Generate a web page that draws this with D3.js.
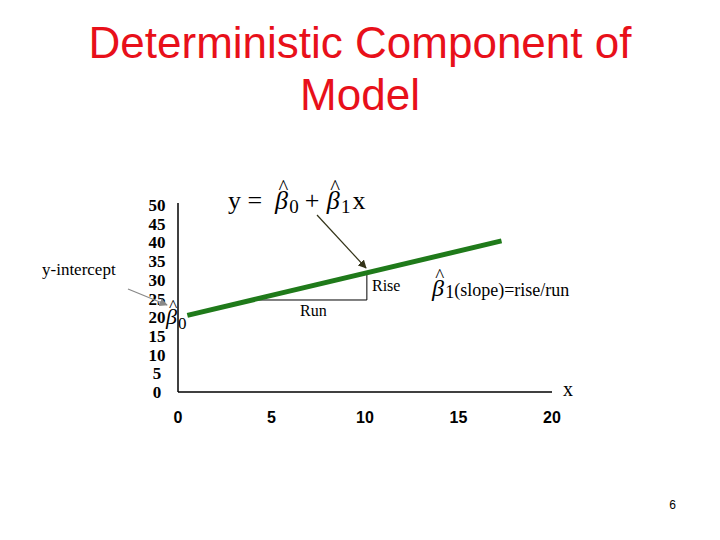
<!DOCTYPE html><html><head><script src="https://cdn.jsdelivr.net/npm/d3@7"></script>
<style>body{margin:0;background:#fff}</style></head><body><svg id="c" width="720" height="540"></svg>
<script>
const xTicks=[0,5,10,15,20];
const yTicks=[0,5,10,15,20,25,30,35,40,45,50];
const lineX=[0.5,17.3];
const lineY=[20.5,40.4];
const runX=[4.2,10.1];
const riseY=[24.6,31.3];
const svg=d3.select("#c");
const x=d3.scaleLinear().domain([0,20]).range([178,552]);
const y=d3.scaleLinear().domain([0,50]).range([392,205]);
const sans="Liberation Sans, Arial", serif="Liberation Serif, Times New Roman";
svg.append("text").attr("x",360).attr("y",58).attr("text-anchor","middle").attr("fill","#e8101a").attr("font-family",sans).attr("font-size",44).text("Deterministic Component of");
svg.append("text").attr("x",360).attr("y",110).attr("text-anchor","middle").attr("fill","#e8101a").attr("font-family",sans).attr("font-size",44).text("Model");
svg.append("line").attr("x1",x(0)).attr("x2",x(0)).attr("y1",y(50)-2).attr("y2",y(0)).attr("stroke","#000").attr("stroke-width",1.5);
svg.append("line").attr("x1",x(0)).attr("x2",x(20)).attr("y1",y(0)).attr("y2",y(0)).attr("stroke","#000").attr("stroke-width",1.5);
svg.selectAll(".yt").data(yTicks).enter().append("text").attr("x",157).attr("y",d=>y(d)+6).attr("text-anchor","middle").attr("font-family",serif).attr("font-weight","bold").attr("font-size",17).text(d=>d);
svg.selectAll(".xt").data(xTicks).enter().append("text").attr("x",d=>x(d)).attr("y",423).attr("text-anchor","middle").attr("font-family",sans).attr("font-weight","bold").attr("font-size",16).text(d=>d);
svg.append("path").attr("d",d3.line()([[x(runX[0]),y(riseY[0])],[x(runX[1]),y(riseY[0])],[x(runX[1]),y(riseY[1])]])).attr("fill","none").attr("stroke","#000").attr("stroke-width",1);
svg.append("line").attr("x1",x(lineX[0])).attr("y1",y(lineY[0])).attr("x2",x(lineX[1])).attr("y2",y(lineY[1])).attr("stroke","#1f7a1a").attr("stroke-width",5);
const defs=svg.append("defs");
[["a1","#333318"],["a2","#888"]].forEach(([id,c])=>defs.append("marker").attr("id",id).attr("viewBox","0 0 10 10").attr("refX",9).attr("refY",5).attr("markerWidth",7).attr("markerHeight",7).attr("orient","auto").append("path").attr("d","M0,0L10,5L0,10z").attr("fill",c));
svg.append("line").attr("x1",317).attr("y1",215).attr("x2",366).attr("y2",268).attr("stroke","#333318").attr("stroke-width",1.2).attr("marker-end","url(#a1)");
svg.append("line").attr("x1",128).attr("y1",289).attr("x2",167).attr("y2",305).attr("stroke","#888").attr("stroke-width",1.2).attr("marker-end","url(#a2)");
svg.append("text").attr("x",42).attr("y",275).attr("font-family",serif).attr("font-size",17).text("y-intercept");
svg.append("text").attr("x",372).attr("y",291).attr("font-family",serif).attr("font-size",16).text("Rise");
svg.append("text").attr("x",300).attr("y",316).attr("font-family",serif).attr("font-size",16).text("Run");
svg.append("text").attr("x",563).attr("y",396).attr("font-family",serif).attr("font-size",20).text("x");
function beta(x0,y0,fs,sub,subfs,dy){
  svg.append("text").attr("x",x0).attr("y",y0).attr("font-family",serif).attr("font-style","italic").attr("font-size",fs).text("β");
  svg.append("text").attr("x",x0+fs*0.32).attr("y",y0-fs*0.58).attr("text-anchor","middle").attr("font-family",serif).attr("font-size",fs*0.8).text("^");
  svg.append("text").attr("x",x0+fs*0.55).attr("y",y0+dy).attr("font-family",serif).attr("font-size",subfs).text(sub);
  return x0+fs*0.55+subfs*0.5;
}
svg.append("text").attr("x",228).attr("y",209).attr("font-family",serif).attr("font-size",26).text("y =");
let e=beta(275,209,26,"0",19,4);
svg.append("text").attr("x",e+6).attr("y",209).attr("font-family",serif).attr("font-size",26).text("+");
e=beta(e+28,209,26,"1",19,4);
svg.append("text").attr("x",e+2).attr("y",209).attr("font-family",serif).attr("font-size",26).text("x");
beta(166,324,22,"0",17,5);
e=beta(432,296,24,"1",18,2);
svg.append("text").attr("x",e).attr("y",296).attr("font-family",serif).attr("font-size",18).text("(slope)=rise/run");
svg.append("text").attr("x",676).attr("y",509).attr("text-anchor","end").attr("font-family",sans).attr("font-size",12).text("6");
</script></body></html>
